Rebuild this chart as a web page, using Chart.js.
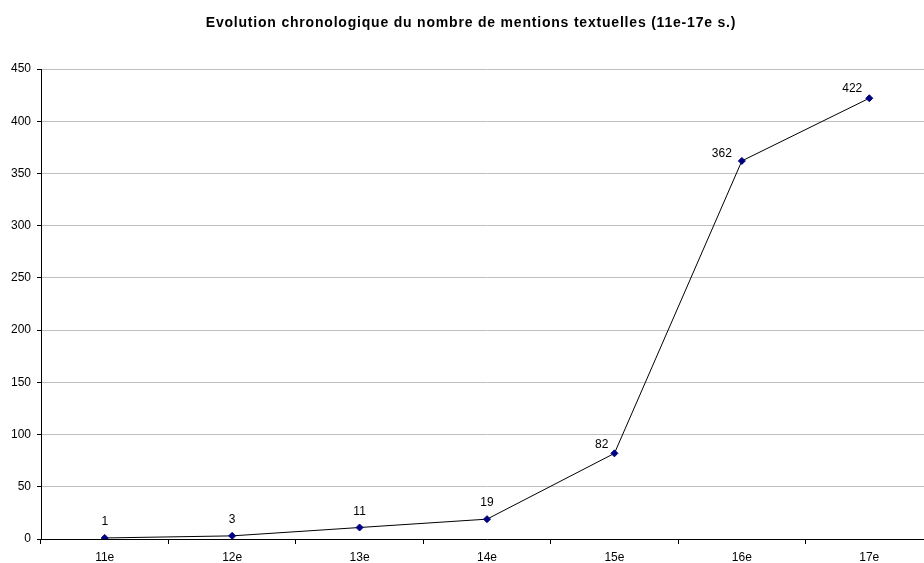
<!DOCTYPE html>
<html>
<head>
<meta charset="utf-8">
<script src="https://cdn.jsdelivr.net/npm/chart.js@4/dist/chart.umd.min.js"></script>
<style>
html,body{margin:0;padding:0;overflow:hidden;background:#fff;width:924px;height:563px;}
#wrap{position:absolute;left:0;top:0;width:938px;height:563px;}
canvas{display:block;}
</style>
</head>
<body>
<div id="wrap"><canvas id="c"></canvas></div>
<script>
const categories = ["11e","12e","13e","14e","15e","16e","17e"];
const mentions = [1, 3, 11, 19, 82, 362, 422];
const yTicks = [0, 50, 100, 150, 200, 250, 300, 350, 400, 450];
const titleText = "Evolution chronologique du nombre de mentions textuelles (11e-17e s.)";

const FONT = "Arial, 'Liberation Sans', sans-serif";

const titlePlugin = {
  id: 'customTitle',
  afterDraw(chart) {
    const ctx = chart.ctx;
    ctx.save();
    ctx.font = "bold 14px " + FONT;
    try { ctx.letterSpacing = "0.8px"; } catch (e) {}
    ctx.fillStyle = "#000";
    ctx.textAlign = "center";
    ctx.textBaseline = "middle";
    ctx.fillText(titleText, 471, 23);
    ctx.restore();
  }
};

const labelPlugin = {
  id: 'pointLabels',
  afterDatasetsDraw(chart) {
    const ctx = chart.ctx;
    const meta = chart.getDatasetMeta(0);
    ctx.save();
    ctx.font = "12px " + FONT;
    ctx.fillStyle = "#000";
    ctx.textBaseline = "middle";
    meta.data.forEach((pt, i) => {
      const v = chart.data.datasets[0].data[i];
      let x = pt.x, y = pt.y - 16, align = "center";
      if (i === 4) { align = "right"; x = pt.x - 6; y = pt.y - 9; }
      else if (i === 5) { align = "right"; x = pt.x - 10; y = pt.y - 7; }
      else if (i === 6) { align = "center"; x = pt.x - 17; y = pt.y - 10; }
      ctx.textAlign = align;
      ctx.fillText(String(v), x, y);
    });
    ctx.restore();
  }
};

new Chart(document.getElementById('c'), {
  type: 'line',
  data: {
    labels: categories,
    datasets: [{
      data: mentions,
      borderColor: '#000',
      borderWidth: 1,
      tension: 0,
      pointStyle: 'rectRot',
      pointRadius: 3.5,
      pointBackgroundColor: '#000080',
      pointBorderColor: '#000080',
      pointBorderWidth: 1,
      fill: false
    }]
  },
  options: {
    responsive: true,
    maintainAspectRatio: false,
    devicePixelRatio: 1,
    animation: false,
    layout: { padding: { left: 0, right: 1, top: 69, bottom: 0 } },
    plugins: {
      legend: { display: false },
      tooltip: { enabled: false },
      title: { display: false }
    },
    scales: {
      x: {
        type: 'category',
        offset: true,
        grid: {
          offset: true,
          drawOnChartArea: false,
          drawTicks: true,
          tickLength: 5,
          color: '#000',
          tickColor: '#000'
        },
        border: { color: '#000', width: 1 },
        ticks: { color: '#000', font: { family: FONT, size: 12 }, padding: 6, maxRotation: 0 },
        afterFit(scale) { scale.height = 24; scale.paddingLeft = 0; scale.paddingRight = 0; }
      },
      y: {
        min: 0,
        max: 450,
        afterBuildTicks(scale) { scale.ticks = yTicks.map(v => ({ value: v })); },
        grid: {
          color: '#c0c0c0',
          tickColor: '#000',
          tickLength: 4,
          lineWidth: 1
        },
        border: { color: '#000', width: 1 },
        ticks: { color: '#000', font: { family: FONT, size: 12 }, padding: 6 },
        afterFit(scale) { scale.width = 41; }
      }
    }
  },
  plugins: [labelPlugin, titlePlugin]
});
</script>
</body>
</html>
